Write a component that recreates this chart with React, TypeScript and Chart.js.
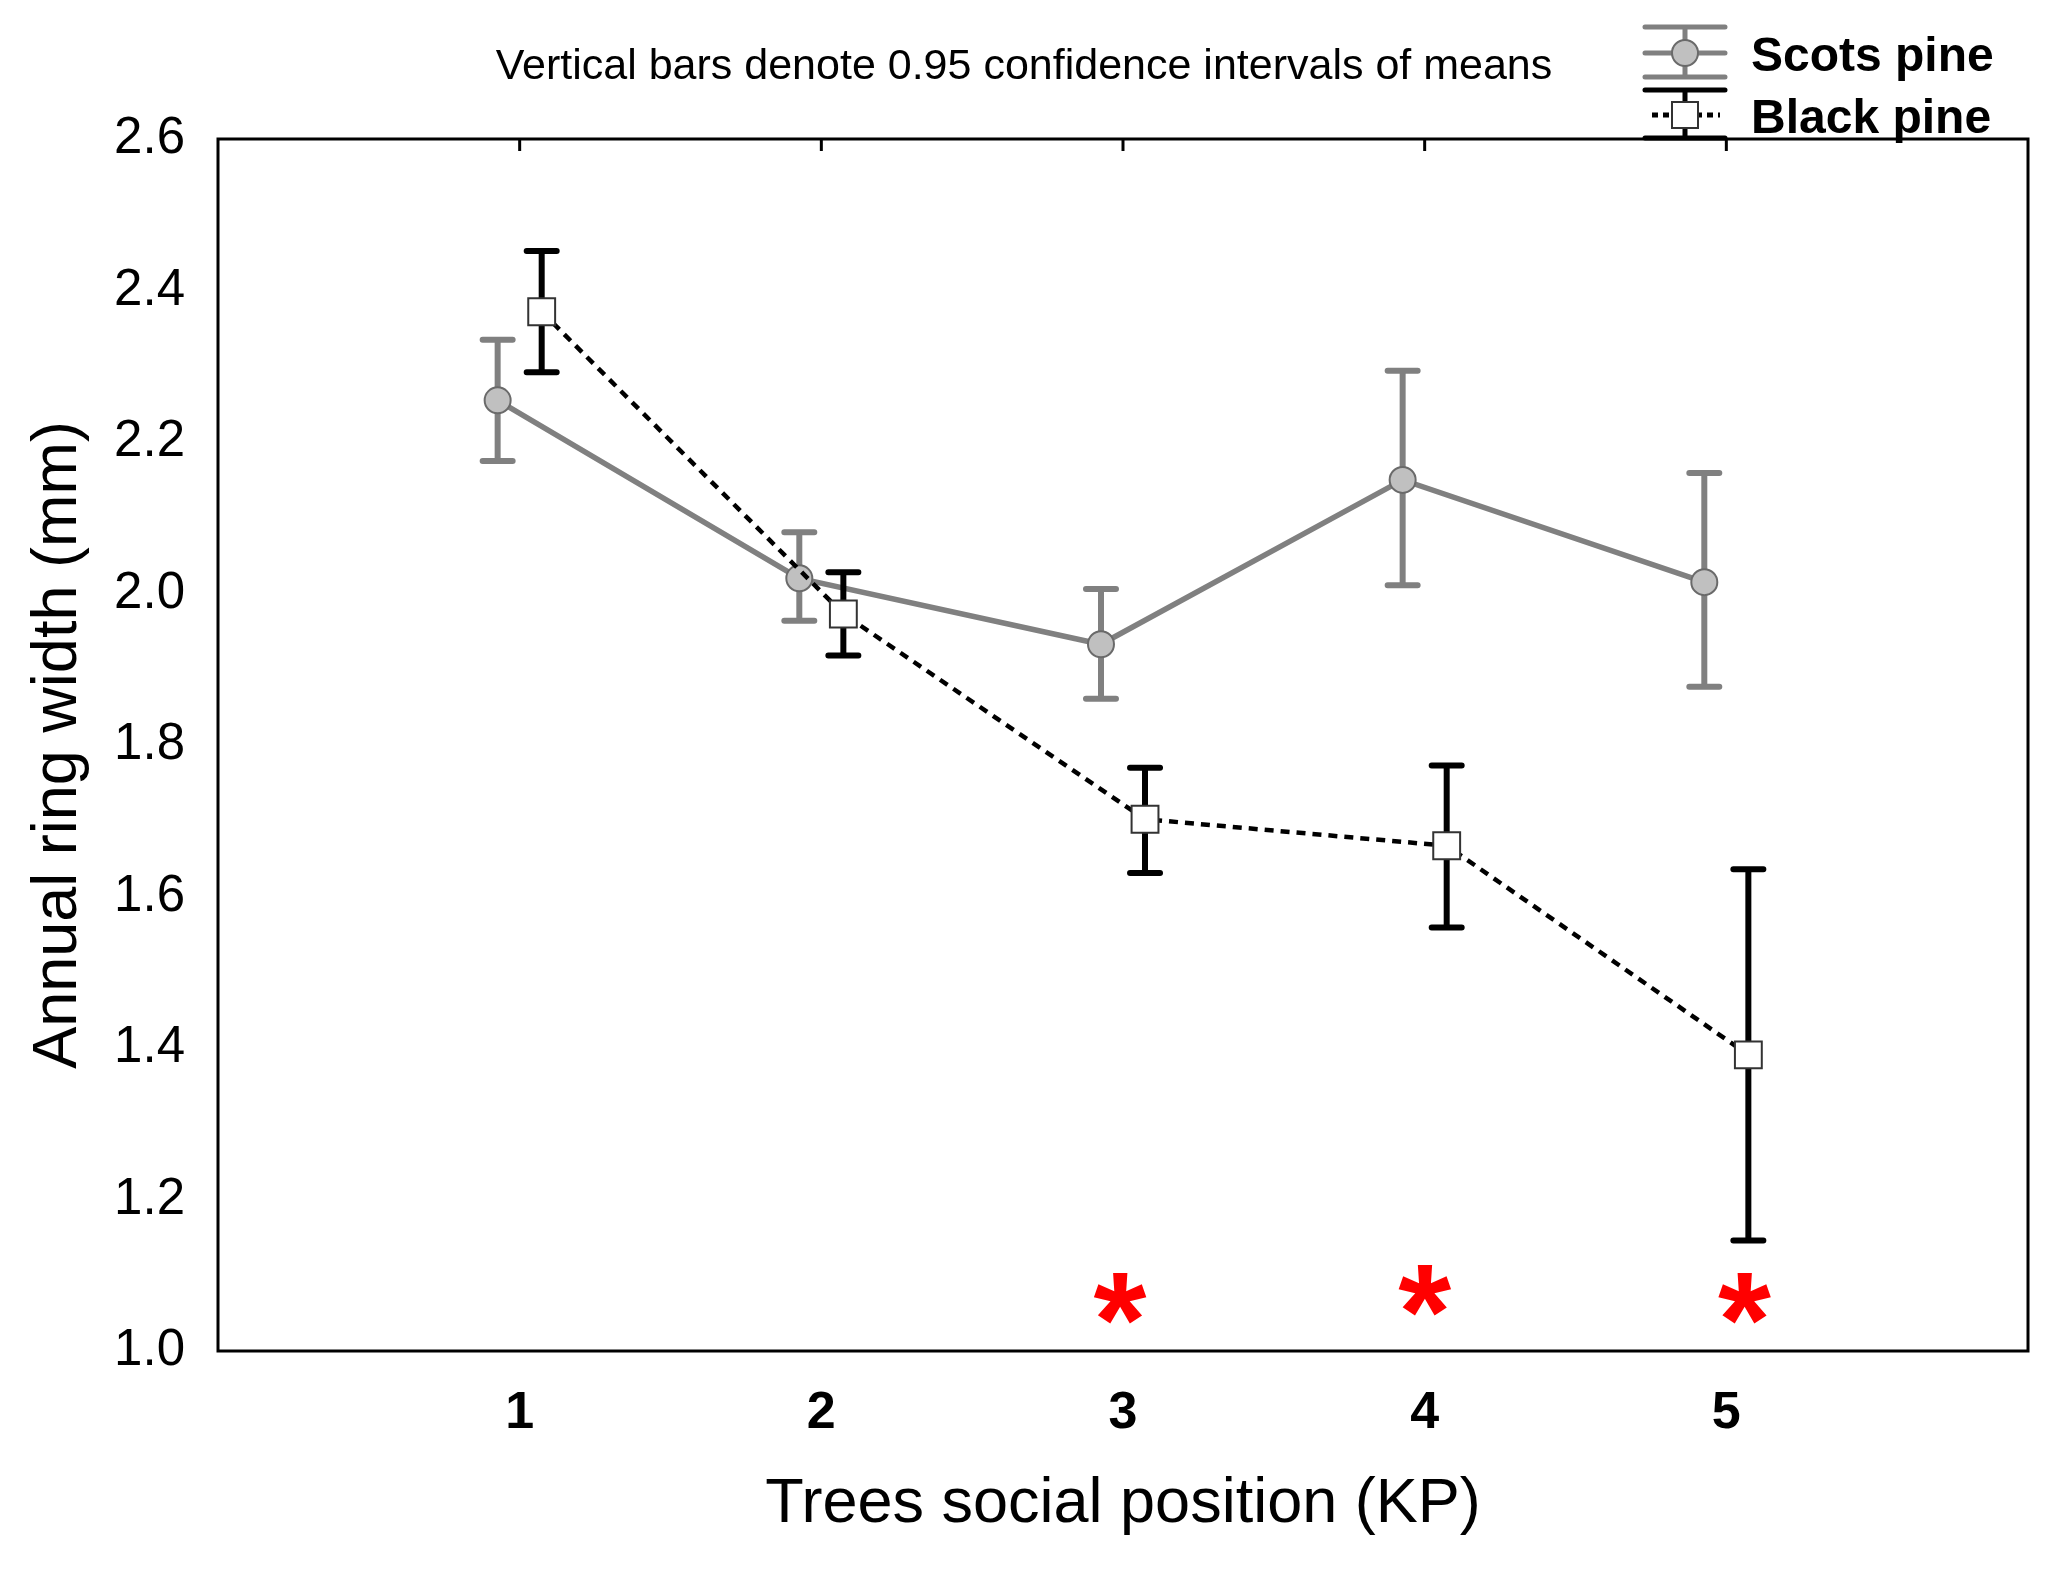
import { useEffect, useRef } from 'react'
import { Chart, registerables } from 'chart.js'

Chart.register(...registerables)

const positions = [1, 2, 3, 4, 5]
const scotsMean = [2.255, 2.02, 1.933, 2.15, 2.015]
const scotsLow = [2.175, 1.964, 1.861, 2.011, 1.877]
const scotsHigh = [2.335, 2.081, 2.006, 2.294, 2.159]
const blackMean = [2.372, 1.973, 1.702, 1.667, 1.391]
const blackLow = [2.292, 1.918, 1.631, 1.559, 1.146]
const blackHigh = [2.452, 2.028, 1.77, 1.773, 1.636]
const yTicks = [1.0, 1.2, 1.4, 1.6, 1.8, 2.0, 2.2, 2.4, 2.6]
const starX = [2.99, 4.0, 5.06]
const starY = [1.064, 1.075, 1.064]

const FONT = '"Liberation Sans", Arial, sans-serif'
const GRAY = '#808080'
const SHIFT = 0.073
const STAR = 136

const bars = [
  { low: scotsLow, high: scotsHigh, shift: -SHIFT, color: GRAY },
  { low: blackLow, high: blackHigh, shift: SHIFT, color: '#000000' },
]

const decor = {
  id: 'decor',
  beforeDatasetDraw(chart: any, args: any) {
    const b = bars[args.index]
    if (!b) return
    const { x, y } = chart.scales
    const ctx = chart.ctx
    ctx.save()
    ctx.strokeStyle = b.color
    ctx.lineWidth = 6
    b.low.forEach((lo: number, k: number) => {
      const px = x.getPixelForValue(positions[k] + b.shift)
      const y1 = y.getPixelForValue(lo)
      const y2 = y.getPixelForValue(b.high[k])
      ctx.lineCap = 'butt'
      ctx.beginPath()
      ctx.moveTo(px, y1)
      ctx.lineTo(px, y2)
      ctx.stroke()
      ctx.lineCap = 'round'
      ctx.beginPath()
      ctx.moveTo(px - 15, y1)
      ctx.lineTo(px + 15, y1)
      ctx.moveTo(px - 15, y2)
      ctx.lineTo(px + 15, y2)
      ctx.stroke()
    })
    ctx.restore()
  },
  afterDraw(chart: any) {
    const { ctx, chartArea: a } = chart
    const { x, y } = chart.scales
    ctx.save()
    // frame
    ctx.strokeStyle = '#000'
    ctx.lineWidth = 3
    ctx.strokeRect(a.left, a.top, a.right - a.left, a.bottom - a.top)
    // inward ticks on the top edge
    positions.forEach((p) => {
      const px = x.getPixelForValue(p)
      ctx.beginPath()
      ctx.moveTo(px, a.top)
      ctx.lineTo(px, a.top + 12)
      ctx.stroke()
    })
    // significance marks
    ctx.fillStyle = '#ff0000'
    ctx.font = `bold ${STAR}px ${FONT}`
    ctx.textAlign = 'center'
    ctx.textBaseline = 'alphabetic'
    starX.forEach((sx, i) => {
      ctx.fillText('*', x.getPixelForValue(sx), y.getPixelForValue(starY[i]) + STAR * 0.47)
    })
    // note
    ctx.fillStyle = '#000'
    ctx.font = `43px ${FONT}`
    ctx.textBaseline = 'middle'
    ctx.fillText('Vertical bars denote 0.95 confidence intervals of means', 1024, 67)
    // legend
    const lx = 1685
    ctx.lineWidth = 5
    ctx.lineCap = 'round'
    ctx.strokeStyle = GRAY
    ctx.beginPath()
    ;[27, 53, 77].forEach((ly) => {
      ctx.moveTo(lx - 40, ly)
      ctx.lineTo(lx + 40, ly)
    })
    ctx.moveTo(lx, 27)
    ctx.lineTo(lx, 77)
    ctx.stroke()
    ctx.beginPath()
    ctx.arc(lx, 53, 13, 0, Math.PI * 2)
    ctx.fillStyle = '#c0c0c0'
    ctx.fill()
    ctx.lineWidth = 2
    ctx.strokeStyle = '#6a6a6a'
    ctx.stroke()
    ctx.lineWidth = 5
    ctx.strokeStyle = '#000'
    ctx.beginPath()
    ;[90, 138].forEach((ly) => {
      ctx.moveTo(lx - 40, ly)
      ctx.lineTo(lx + 40, ly)
    })
    ctx.moveTo(lx, 90)
    ctx.lineTo(lx, 138)
    ctx.stroke()
    ctx.lineCap = 'butt'
    ctx.lineWidth = 5
    ctx.setLineDash([6, 5])
    ctx.beginPath()
    ctx.moveTo(lx - 33, 115)
    ctx.lineTo(lx + 35, 115)
    ctx.stroke()
    ctx.setLineDash([])
    ctx.fillStyle = '#fff'
    ctx.fillRect(lx - 13, 102, 26, 26)
    ctx.lineWidth = 2
    ctx.strokeStyle = '#333'
    ctx.strokeRect(lx - 13, 102, 26, 26)
    ctx.fillStyle = '#000'
    ctx.font = `bold 48px ${FONT}`
    ctx.textAlign = 'left'
    ctx.textBaseline = 'alphabetic'
    ctx.fillText('Scots pine', 1751, 71)
    ctx.fillText('Black pine', 1751, 133)
    ctx.restore()
  },
}

export default function App() {
  const ref = useRef<HTMLCanvasElement>(null)
  useEffect(() => {
    if (!ref.current) return
    const chart = new Chart(ref.current, {
      type: 'scatter',
      data: {
        datasets: [
          {
            label: 'Scots pine',
            data: positions.map((p, i) => ({ x: p - SHIFT, y: scotsMean[i] })),
            showLine: true,
            borderColor: GRAY,
            borderWidth: 5.5,
            pointRadius: 13,
            pointBackgroundColor: '#c0c0c0',
            pointBorderColor: '#6a6a6a',
            pointBorderWidth: 2,
            order: 2,
          },
          {
            label: 'Black pine',
            data: positions.map((p, i) => ({ x: p + SHIFT, y: blackMean[i] })),
            showLine: true,
            borderColor: '#000',
            borderWidth: 4.5,
            borderDash: [9, 7],
            pointStyle: 'rect',
            pointRadius: 19,
            pointBackgroundColor: '#fff',
            pointBorderColor: '#333',
            pointBorderWidth: 2,
            order: 1,
          },
        ],
      },
      options: {
        animation: false,
        responsive: false,
        devicePixelRatio: 1,
        layout: { padding: { left: 0, right: 39, top: 139, bottom: 0 } },
        plugins: { legend: { display: false }, tooltip: { enabled: false } },
        scales: {
          x: {
            type: 'linear',
            min: 0,
            max: 6,
            grid: { display: false },
            border: { display: false },
            afterBuildTicks: (s: any) => {
              s.ticks = positions.map((v) => ({ value: v }))
            },
            afterFit: (s: any) => {
              s.height = 228
            },
            ticks: {
              color: '#000',
              padding: 23,
              font: { family: FONT, size: 52, weight: 'bold' },
              callback: (v: any) => String(v),
            },
            title: {
              display: true,
              text: 'Trees social position (KP)',
              color: '#000',
              font: { family: FONT, size: 63 },
              padding: { top: 0, bottom: 37 },
            },
          },
          y: {
            min: 1.0,
            max: 2.6,
            grid: { display: false },
            border: { display: false },
            afterBuildTicks: (s: any) => {
              s.ticks = yTicks.map((v) => ({ value: v }))
            },
            afterFit: (s: any) => {
              s.width = 218
            },
            ticks: {
              color: '#000',
              padding: 25,
              font: { family: FONT, size: 51 },
              callback: (v: any) => Number(v).toFixed(1),
            },
            title: {
              display: true,
              text: 'Annual ring width (mm)',
              color: '#000',
              font: { family: FONT, size: 63 },
              padding: { top: 21, bottom: 0 },
            },
          },
        },
      },
      plugins: [decor],
    })
    return () => chart.destroy()
  }, [])
  return (
    <div style={{ position: 'absolute', left: 0, top: 0, width: 2067, height: 1579, background: '#fff' }}>
      <canvas ref={ref} width={2067} height={1579} style={{ display: 'block', width: 2067, height: 1579 }} />
    </div>
  )
}
